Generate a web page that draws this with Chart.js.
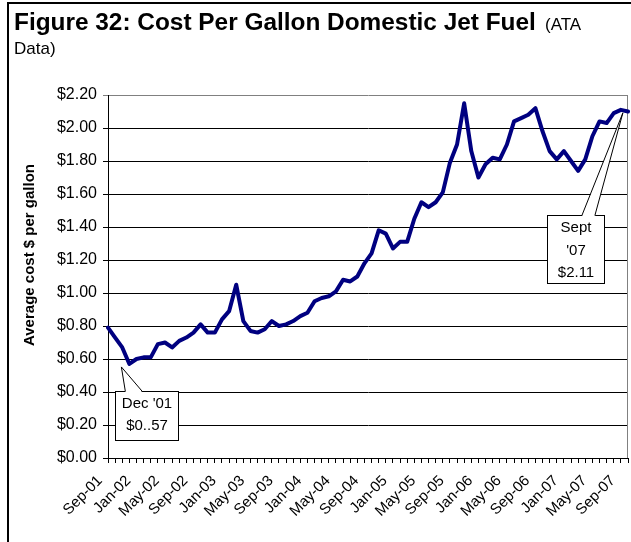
<!DOCTYPE html>
<html>
<head>
<meta charset="utf-8">
<title>Cost Per Gallon Domestic Jet Fuel</title>
<script src="https://cdn.jsdelivr.net/npm/chart.js@4.4.0/dist/chart.umd.min.js"></script>
<style>
  body { margin: 0; background: #fff; font-family: Arial, "Liberation Sans", sans-serif; }
  #wrap { position: relative; width: 631px; height: 542px; overflow: hidden; }
  #frame { position: absolute; left: 7px; top: 2px; width: 640px; height: 560px;
           border-left: 2px solid #000; border-top: 2px solid #000; }
  #fig { position: absolute; left: 14px; top: 10px; line-height: 24px; color: #000; white-space: nowrap; }
  #fig b { font-size: 24.4px; }
  #fig span { font-size: 17px; }
  #ytitle { position: absolute; left: 28px; top: 255px; font-weight: bold; font-size: 15px;
            white-space: nowrap; transform: translate(-50%, -50%) rotate(-90deg); }
  canvas { position: absolute; left: 0; top: 0; }
</style>
</head>
<body>
<div id="wrap">
  <canvas id="mycanvas" width="631" height="542"></canvas>
  <div id="frame"></div>
  <div id="fig"><b>Figure 32: Cost Per Gallon Domestic Jet Fuel</b> <span>&nbsp;(ATA</span><br><span>Data)</span></div>
  <div id="ytitle">Average cost $ per gallon</div>
</div>
<script>
// monthly average cost, Sep 2001 - Oct 2007
var months = [
  "Sep-01","Oct-01","Nov-01","Dec-01",
  "Jan-02","Feb-02","Mar-02","Apr-02","May-02","Jun-02","Jul-02","Aug-02","Sep-02","Oct-02","Nov-02","Dec-02",
  "Jan-03","Feb-03","Mar-03","Apr-03","May-03","Jun-03","Jul-03","Aug-03","Sep-03","Oct-03","Nov-03","Dec-03",
  "Jan-04","Feb-04","Mar-04","Apr-04","May-04","Jun-04","Jul-04","Aug-04","Sep-04","Oct-04","Nov-04","Dec-04",
  "Jan-05","Feb-05","Mar-05","Apr-05","May-05","Jun-05","Jul-05","Aug-05","Sep-05","Oct-05","Nov-05","Dec-05",
  "Jan-06","Feb-06","Mar-06","Apr-06","May-06","Jun-06","Jul-06","Aug-06","Sep-06","Oct-06","Nov-06","Dec-06",
  "Jan-07","Feb-07","Mar-07","Apr-07","May-07","Jun-07","Jul-07","Aug-07","Sep-07","Oct-07"
];

var costPerGallon = [
  0.79, 0.73, 0.67, 0.57,
  0.60, 0.61, 0.61, 0.69, 0.70, 0.67, 0.71, 0.73, 0.76, 0.81, 0.76, 0.76,
  0.84, 0.89, 1.05, 0.83, 0.77, 0.76, 0.78, 0.83, 0.80, 0.81, 0.83, 0.86,
  0.88, 0.95, 0.97, 0.98, 1.01, 1.08, 1.07, 1.10, 1.18, 1.24, 1.38, 1.36,
  1.27, 1.31, 1.31, 1.45, 1.55, 1.52, 1.55, 1.61, 1.79, 1.90, 2.15, 1.86,
  1.70, 1.78, 1.82, 1.81, 1.90, 2.04, 2.06, 2.08, 2.12, 1.98, 1.86, 1.81,
  1.86, 1.80, 1.74, 1.81, 1.95, 2.04, 2.03, 2.09, 2.11, 2.10
];

var yTicks = [0, 0.2, 0.4, 0.6, 0.8, 1.0, 1.2, 1.4, 1.6, 1.8, 2.0, 2.2];

// callout boxes: which month they point at and what they say
var noteMonths = ["Dec-01", "Sep-07"];
var noteText = [["Dec '01", "$0..57"], ["Sept", "'07", "$2.11"]];

var FONT = "Arial, 'Liberation Sans', sans-serif";

// box geometry relative to the data point (tip, box, wedge base, line offsets)
var noteStyle = [
  { tip: [-8, 3], box: [-14, 27, 63, 49], base: [-4, 13], lineY: [12, 34] },
  { tip: [2, 3], box: [-74, 105, 57, 68], base: [-39, -26], lineY: [12, 35, 57] }
];

var calloutPlugin = {
  id: 'callouts',
  afterDatasetsDraw: function(chart) {
    var ctx = chart.ctx;
    var xs = chart.scales.x, ys = chart.scales.y;
    ctx.save();
    for (var n = 0; n < noteMonths.length; n++) {
      var idx = months.indexOf(noteMonths[n]);
      var px = xs.getPixelForValue(idx);
      var py = ys.getPixelForValue(costPerGallon[idx]);
      var s = noteStyle[n];
      var tx = px + s.tip[0], ty = py + s.tip[1];
      var bx = Math.round(px + s.box[0]) + 0.5, by = Math.round(py + s.box[1]) + 0.5;
      var bw = s.box[2], bh = s.box[3];

      ctx.fillStyle = '#fff';
      ctx.strokeStyle = '#000';
      ctx.lineWidth = 1;
      ctx.fillRect(bx, by, bw, bh);
      ctx.strokeRect(bx, by, bw, bh);

      // wedge pointing at the point
      var b1 = px + s.base[0], b2 = px + s.base[1];
      ctx.beginPath();
      ctx.moveTo(tx, ty);
      ctx.lineTo(b1, by + 1);
      ctx.lineTo(b2, by + 1);
      ctx.closePath();
      ctx.fill();
      ctx.beginPath();
      ctx.moveTo(b1, by);
      ctx.lineTo(tx, ty);
      ctx.lineTo(b2, by);
      ctx.stroke();

      ctx.fillStyle = '#000';
      ctx.font = '15px ' + FONT;
      ctx.textAlign = 'center';
      ctx.textBaseline = 'middle';
      for (var k = 0; k < noteText[n].length; k++) {
        ctx.fillText(noteText[n][k], bx + bw / 2, by + s.lineY[k]);
      }
    }
    ctx.restore();
  }
};

var frameRight = {
  id: 'frameRight',
  beforeDatasetsDraw: function(chart) {
    var a = chart.chartArea, ctx = chart.ctx;
    ctx.save();
    ctx.strokeStyle = '#808080';
    ctx.lineWidth = 1;
    ctx.beginPath();
    ctx.moveTo(Math.round(a.right) - 0.5, a.top);
    ctx.lineTo(Math.round(a.right) - 0.5, a.bottom);
    ctx.stroke();
    ctx.restore();
  }
};

var chartdata = {
  labels: months,
  datasets: [
    {
      label: "Cost per gallon",
      data: costPerGallon,
      borderColor: "#000080",
      backgroundColor: "#000080",
      borderWidth: 4,
      pointRadius: 0,
      lineTension: 0,
      fill: false,
      borderJoinStyle: 'round',
      borderCapStyle: 'round'
    }
  ]
};

var ctx = document.getElementById('mycanvas');

var LineGraph = new Chart(ctx, {
  type: 'line',
  data: chartdata,
  plugins: [frameRight, calloutPlugin],
  options: {
    responsive: false,
    animation: false,
    layout: { padding: { top: 95, right: 3, left: 0, bottom: 0 } },
    plugins: {
      legend: { display: false },
      tooltip: { enabled: false }
    },
    scales: {
      x: {
        offset: false,
        border: { color: '#000', width: 1 },
        grid: { drawOnChartArea: false, drawTicks: true, tickLength: 5, color: '#000' },
        ticks: {
          autoSkip: false,
          maxRotation: 45,
          minRotation: 45,
          padding: 9,
          labelOffset: -8,
          color: '#000',
          font: { family: FONT, size: 15 },
          callback: function(v, i) { return i % 4 === 0 ? months[i] : ''; }
        },
        afterFit: function(scale) {
          scale.height = 84;
          scale.paddingLeft = 0;
          scale.paddingRight = 0;
        }
      },
      y: {
        min: 0,
        max: 2.2,
        border: { color: '#000', width: 1 },
        grid: {
          tickLength: 5,
          color: function(c) { return c.tick && c.tick.value >= 2.2 ? '#808080' : '#000'; }
        },
        afterBuildTicks: function(scale) {
          scale.ticks = yTicks.map(function(v) { return { value: v }; });
        },
        ticks: {
          padding: 6,
          color: '#000',
          font: { family: FONT, size: 16 },
          callback: function(v) { return '$' + Number(v).toFixed(2); }
        },
        afterFit: function(scale) { scale.width = 108; }
      }
    }
  }
});
</script>
</body>
</html>
